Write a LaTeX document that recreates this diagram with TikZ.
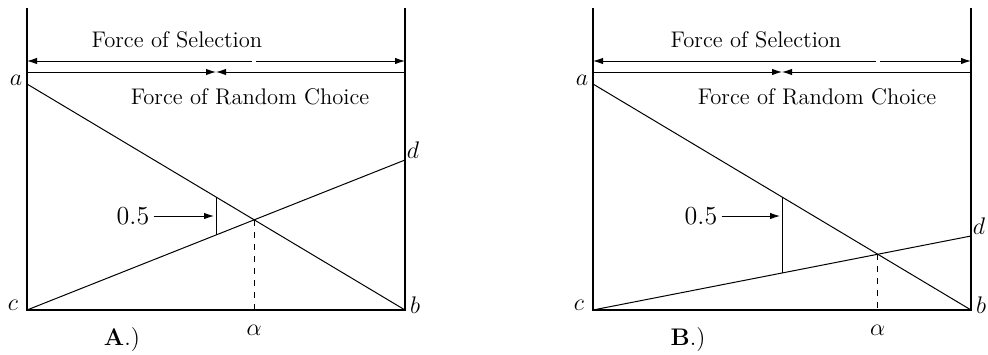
\documentclass[tikz,border=0pt]{standalone}
\usetikzlibrary{positioning,arrows.meta,calc}

\begin{document}
\begin{tikzpicture}[
  x=0.5pt, y=0.5pt,
  wall/.style={line width=1pt},
  curve/.style={line width=0.5pt},
  force/.style={line width=0.45pt, ->},
  title/.style={font=\fontsize{11.3}{13.5}\selectfont},
  lbl/.style={inner sep=0pt, font=\fontsize{12}{14}\selectfont},
  half/.style={inner sep=0pt, font=\fontsize{13}{15}\selectfont},
  >={Latex[length=5pt,width=3.2pt]}
]
  \useasboundingbox (-27,-44) rectangle (961,310);

  % panel A
  \begin{scope}
    \coordinate (c1) at (0,0);
    \coordinate (b1) at (378,0);
    \coordinate (a1) at (0,226);
    \coordinate (d1) at (378,150);
    \coordinate (tl1) at (0,302);
    \coordinate (tr1) at (378,302);
    \draw[wall] (tl1) -- (c1) -- (b1) -- (tr1);
    \draw[curve] (a1) -- (b1);
    \draw[curve] (c1) -- (d1);
    % crossing point
    \coordinate (x1) at (intersection of a1--b1 and c1--d1);
    \coordinate (f1) at (x1 |- c1);
    \draw[curve, dashed] (x1) -- (f1);
    % forces
    \coordinate (sl1) at (0,249);
    \coordinate (sr1) at (378,249);
    \coordinate (g1) at (x1 |- sl1);
    \draw[force] ($(g1)+(-2,0)$) -- (sl1);
    \draw[force] ($(g1)+(2,0)$) -- (sr1);
    \coordinate (rl1) at (0,238);
    \coordinate (rr1) at (378,238);
    \coordinate (m1) at ($(a1)!.5!(b1)$);
    \coordinate (n1) at ($(c1)!.5!(d1)$);
    \coordinate (h1) at (m1 |- rl1);
    \draw[force] (rl1) -- (h1);
    \draw[force] (rr1) -- (h1);
    \node[title] (sel1) at (150,270) {Force of Selection};
    \node[title] (rnd1) at (223,213) {Force of Random Choice};
    % the 0.5 gap
    \draw[curve] (m1) -- (n1);
    \node[half] (hv1) at (106,94) {0.5};
    \coordinate (p1) at ($(m1 |- hv1)+(-2,0)$);
    \draw[force] (hv1.east) ++(4,0) -- (p1);
    % labels
    \node[lbl] (la1) at (-11,230) {$a$};
    \node[lbl] (lc1) at (-14,5) {$c$};
    \node[lbl] (lb1) at (388,5) {$b$};
    \node[lbl] (ld1) at ($(d1)+(8,10)$) {$d$};
    \node[lbl] (al1) at ($(f1)+(0,-20)$) {$\alpha$};
    \node[lbl] (cap1) at (95,-30) {\textbf{A}.)};
  \end{scope}

  % panel B
  \begin{scope}[shift={(566,0)}]
    \coordinate (c2) at (0,0);
    \coordinate (b2) at (378,0);
    \coordinate (a2) at (0,226);
    \coordinate (d2) at (378,74);
    \coordinate (tl2) at (0,302);
    \coordinate (tr2) at (378,302);
    \draw[wall] (tl2) -- (c2) -- (b2) -- (tr2);
    \draw[curve] (a2) -- (b2);
    \draw[curve] (c2) -- (d2);
    % crossing point
    \coordinate (x2) at (intersection of a2--b2 and c2--d2);
    \coordinate (f2) at (x2 |- c2);
    \draw[curve, dashed] (x2) -- (f2);
    % forces
    \coordinate (sl2) at (0,249);
    \coordinate (sr2) at (378,249);
    \coordinate (g2) at (x2 |- sl2);
    \draw[force] ($(g2)+(-2,0)$) -- (sl2);
    \draw[force] ($(g2)+(2,0)$) -- (sr2);
    \coordinate (rl2) at (0,238);
    \coordinate (rr2) at (378,238);
    \coordinate (m2) at ($(a2)!.5!(b2)$);
    \coordinate (n2) at ($(c2)!.5!(d2)$);
    \coordinate (h2) at (m2 |- rl2);
    \draw[force] (rl2) -- (h2);
    \draw[force] (rr2) -- (h2);
    \node[title] (sel2) at (163,270) {Force of Selection};
    \node[title] (rnd2) at (224,213) {Force of Random Choice};
    % the 0.5 gap
    \draw[curve] (m2) -- (n2);
    \node[half] (hv2) at (108,94) {0.5};
    \coordinate (p2) at ($(m2 |- hv2)+(-2,0)$);
    \draw[force] (hv2.east) ++(4,0) -- (p2);
    % labels
    \node[lbl] (la2) at (-11,230) {$a$};
    \node[lbl] (lc2) at (-14,5) {$c$};
    \node[lbl] (lb2) at (388,5) {$b$};
    \node[lbl] (ld2) at ($(d2)+(8,10)$) {$d$};
    \node[lbl] (al2) at ($(f2)+(0,-20)$) {$\alpha$};
    \node[lbl] (cap2) at (95,-30) {\textbf{B}.)};
  \end{scope}
\end{tikzpicture}
\end{document}
